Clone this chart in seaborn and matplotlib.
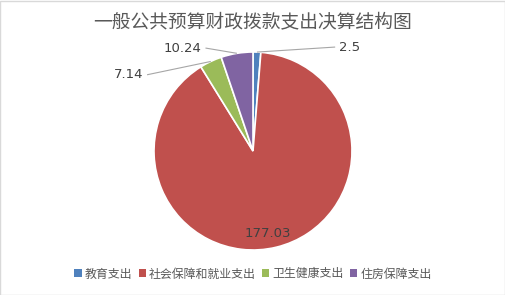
import numpy as np
import matplotlib
matplotlib.use("Agg")
import matplotlib.pyplot as plt
import seaborn as sns
from matplotlib.patches import Rectangle, Patch

categories = ["教育支出", "社会保障和就业支出", "卫生健康支出", "住房保障支出"]
values = [2.5, 177.03, 7.14, 10.24]
value_labels = ["2.5", "177.03", "7.14", "10.24"]
colors = ["#4F81BD", "#C0504D", "#9BBB59", "#8064A2"]
title = "一般公共预算财政拨款支出决算结构图"

sns.set_theme(style="white")
plt.rcParams['font.family'] = ['Noto Sans CJK SC', 'DejaVu Sans']

W, H, dpi = 506, 295, 100
fig = plt.figure(figsize=(W / dpi, H / dpi), dpi=dpi)
fig.patch.set_facecolor("white")
ax = fig.add_axes([0, 0, 1, 1])

cx, cy, R = 253, 151, 99
pal = sns.color_palette(colors)
wedges, _ = ax.pie(values, colors=pal, startangle=90, counterclock=False,
                   radius=1, wedgeprops=dict(edgecolor="white", linewidth=1.2))
ax.set_xlim(-cx / R, (W - cx) / R)
ax.set_ylim(-(H - cy) / R, cy / R)
ax.set_aspect("equal")
ax.axis("off")

txtcol = "#404040"
numfont = ['DejaVu Sans']
# label placement (text anchor relative to axes data units)
label_pos = {0: (0.83, 1.05, "left"), 2: (-1.07, 0.77, "right"), 3: (-0.48, 1.04, "right")}
for i, w in enumerate(wedges):
    mid = np.deg2rad((w.theta1 + w.theta2) / 2)
    ex, ey = np.cos(mid), np.sin(mid)
    if i == 1:
        ax.text(0.15, -0.83, value_labels[i], ha="center", va="center",
                fontsize=9.5, color=txtcol, family=numfont)
        continue
    tx, ty, ha = label_pos[i]
    ax.plot([ex, tx], [ey, ty], color="#A6A6A6", lw=0.8, solid_capstyle="butt")
    off = 0.04 if ha == "left" else -0.04
    ax.text(tx + off, ty, value_labels[i], ha=ha, va="center", fontsize=9.5,
            color=txtcol, family=numfont)

fig.text(0.5, 1 - 22 / H, title, ha="center", va="center", fontsize=13.5, color="#595959")

handles = [Patch(facecolor=c, edgecolor="none") for c in colors]
fig.legend(handles, categories, loc="center", bbox_to_anchor=(0.5, 1 - 274 / H), ncol=4,
           frameon=False, fontsize=8.6, handlelength=0.6, handleheight=0.6,
           handletextpad=0.25, columnspacing=0.55, labelcolor="#595959")

fig.patches.append(Rectangle((0.5 / W, 0.5 / H), 1 - 1.5 / W, 1 - 1.5 / H, transform=fig.transFigure,
                             fill=False, edgecolor="#D9D9D9", linewidth=1))
fig.savefig("out.png", dpi=dpi)
